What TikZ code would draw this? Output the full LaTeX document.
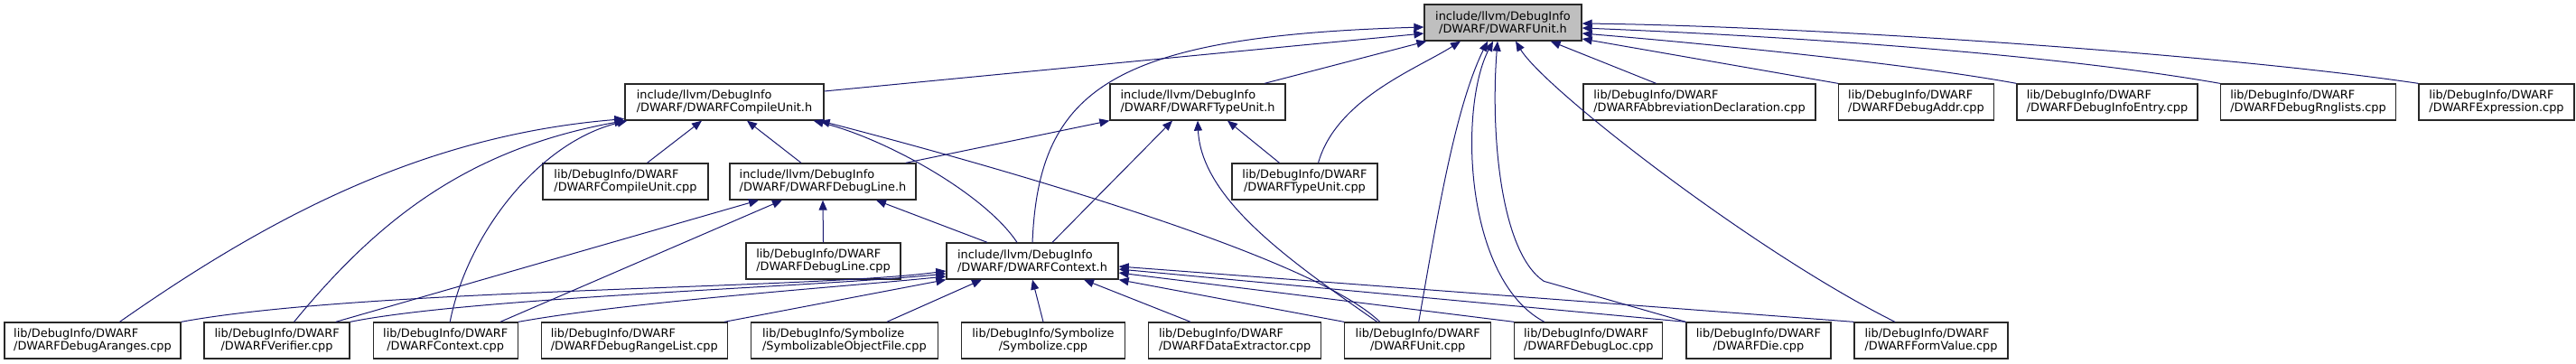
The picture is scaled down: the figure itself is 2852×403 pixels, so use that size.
\documentclass[tikz,border=0pt]{standalone}
\usepackage{fontspec}
\setmainfont{DejaVu Sans}
\usepackage{tikz}
\usetikzlibrary{positioning, arrows.meta}
\definecolor{dxblue}{RGB}{25,25,112}
\definecolor{dxborder}{RGB}{40,40,40}
\definecolor{dxgrey}{RGB}{191,191,191}
\newlength\dxwa
\newlength\dxwb
\newcommand\dxlabel[2]{\settowidth\dxwa{#1}\settowidth\dxwb{#2}%
  \ifdim\dxwb>\dxwa\dxwa=\dxwb\fi\makebox[\dxwa][l]{#1}\\#2}
\tikzset{
  dxfile/.style = {rectangle, draw=dxborder, fill=white, line width=1.3pt,
                   minimum height=40pt, inner sep=0pt, align=center,
                   font=\fontsize{12.9}{14.5}\selectfont},
  dxroot/.style = {dxfile, fill=dxgrey},
  dxedge/.style = {-{Triangle[length=11pt,width=9pt]}, draw=dxblue, line width=1pt}
}
\begin{document}
\begin{tikzpicture}[x=1pt, y=-1pt, node distance=24.8pt]
\useasboundingbox (0,0) rectangle (2852,403);
\node[dxroot, minimum width=174pt] (unith) at (1664,25) {\dxlabel{include/llvm/DebugInfo}{/DWARF/DWARFUnit.h}};

\node[dxfile, minimum width=220pt] (cuh) at (802,113) {\dxlabel{include/llvm/DebugInfo}{/DWARF/DWARFCompileUnit.h}};
\node[dxfile, minimum width=194pt] (tuh) at (1326,113) {\dxlabel{include/llvm/DebugInfo}{/DWARF/DWARFTypeUnit.h}};
\node[dxfile, minimum width=257pt] (abbr) at (1881.5,113) {\dxlabel{lib/DebugInfo/DWARF}{/DWARFAbbreviationDeclaration.cpp}};
\node[dxfile, minimum width=172pt, right=24.2pt of abbr] (daddr) {\dxlabel{lib/DebugInfo/DWARF}{/DWARFDebugAddr.cpp}};
\node[dxfile, minimum width=200pt, right=24.2pt of daddr] (dent) {\dxlabel{lib/DebugInfo/DWARF}{/DWARFDebugInfoEntry.cpp}};
\node[dxfile, minimum width=194pt, right=24.2pt of dent] (drng) {\dxlabel{lib/DebugInfo/DWARF}{/DWARFDebugRnglists.cpp}};
\node[dxfile, minimum width=172pt, right=24.2pt of drng] (expr) {\dxlabel{lib/DebugInfo/DWARF}{/DWARFExpression.cpp}};

\node[dxfile, minimum width=183pt] (cuc) at (692.5,201) {\dxlabel{lib/DebugInfo/DWARF}{/DWARFCompileUnit.cpp}};
\node[dxfile, minimum width=206pt] (dlh) at (911,201) {\dxlabel{include/llvm/DebugInfo}{/DWARF/DWARFDebugLine.h}};
\node[dxfile, minimum width=161pt] (tuc) at (1444.5,201) {\dxlabel{lib/DebugInfo/DWARF}{/DWARFTypeUnit.cpp}};

\node[dxfile, minimum width=171pt] (dlc) at (911.5,289) {\dxlabel{lib/DebugInfo/DWARF}{/DWARFDebugLine.cpp}};
\node[dxfile, minimum width=190pt] (ctxh) at (1143,289) {\dxlabel{include/llvm/DebugInfo}{/DWARF/DWARFContext.h}};

\node[dxfile, minimum width=195pt] (arng) at (102.5,377) {\dxlabel{lib/DebugInfo/DWARF}{/DWARFDebugAranges.cpp}};
\node[dxfile, minimum width=161pt, right=of arng] (verc) {\dxlabel{lib/DebugInfo/DWARF}{/DWARFVerifier.cpp}};
\node[dxfile, minimum width=160pt, right=of verc] (ctxc) {\dxlabel{lib/DebugInfo/DWARF}{/DWARFContext.cpp}};
\node[dxfile, minimum width=206pt, right=of ctxc] (rngl) {\dxlabel{lib/DebugInfo/DWARF}{/DWARFDebugRangeList.cpp}};
\node[dxfile, minimum width=207pt, right=of rngl] (symo) {\dxlabel{lib/DebugInfo/Symbolize}{/SymbolizableObjectFile.cpp}};
\node[dxfile, minimum width=181pt, right=of symo] (symz) {\dxlabel{lib/DebugInfo/Symbolize}{/Symbolize.cpp}};
\node[dxfile, minimum width=191pt, right=of symz] (dext) {\dxlabel{lib/DebugInfo/DWARF}{/DWARFDataExtractor.cpp}};
\node[dxfile, minimum width=162pt, right=of dext] (unitc) {\dxlabel{lib/DebugInfo/DWARF}{/DWARFUnit.cpp}};
\node[dxfile, minimum width=164pt, right=of unitc] (dloc) {\dxlabel{lib/DebugInfo/DWARF}{/DWARFDebugLoc.cpp}};
\node[dxfile, minimum width=160pt, right=of dloc] (diec) {\dxlabel{lib/DebugInfo/DWARF}{/DWARFDie.cpp}};
\node[dxfile, minimum width=170pt, right=of diec] (fval) {\dxlabel{lib/DebugInfo/DWARF}{/DWARFFormValue.cpp}};

\draw[dxedge] ([yshift=12pt]cuh.east) -- ([yshift=-12pt]unith.west);
\draw[dxedge] (ctxh.north) .. controls +(7,-169) and +(-347,10) .. ([yshift=-5pt]unith.west);
\draw[dxedge] ([xshift=74pt]tuh.north) -- ([xshift=3pt]unith.south west);
\draw[dxedge] ([xshift=15pt]tuc.north) .. controls +(20,-71) and +(-47,30) .. ([xshift=-47pt]unith.south);
\draw[dxedge] ([xshift=1pt]unitc.north) .. controls +(19,-107) and +(-37,75) .. ([xshift=-17pt]unith.south);
\draw[dxedge] ([xshift=-49pt]dloc.north) .. controls +(-89,-47) and +(-38,73) .. ([xshift=-11pt]unith.south);
\draw[dxedge] (diec.north west) -- ++(-157,-45) .. controls +(-48,-32) and +(-8,102) .. ([xshift=-6pt]unith.south);
\draw[dxedge] ([xshift=-40pt]fval.north) .. controls +(-155,-77) and +(32,53) .. ([xshift=14pt]unith.south);
\draw[dxedge] ([xshift=-48pt]abbr.north) -- ([xshift=-35pt]unith.south east);
\draw[dxedge] (daddr.north west) -- ([yshift=-18pt]unith.east);
\draw[dxedge] (dent.north west) .. controls +(-131,-24) and +(99,8) .. ([yshift=-12pt]unith.east);
\draw[dxedge] (drng.north west) .. controls +(-200,-35) and +(200,8) .. ([yshift=-6pt]unith.east);
\draw[dxedge] (expr.north west) .. controls +(-223,-33) and +(250,3) .. ([yshift=-1pt]unith.east);

\draw[dxedge] ([xshift=30pt]arng.north) .. controls +(167,-117) and +(-221,18) .. ([yshift=2pt]cuh.south west);
\draw[dxedge] ([xshift=19pt]verc.north) .. controls +(96,-117) and +(-170,31) .. (cuh.south west);
\draw[dxedge] ([xshift=5pt]ctxc.north) .. controls +(19,-97) and +(-98,24) .. ([xshift=3pt]cuh.south west);
\draw[dxedge] ([xshift=24pt]cuc.north) -- ([xshift=-25pt]cuh.south);
\draw[dxedge] ([xshift=-24pt]dlh.north) -- ([xshift=25pt]cuh.south);
\draw[dxedge] ([xshift=-17pt]ctxh.north) .. controls +(-36,-54) and +(80,20) .. ([xshift=-12pt]cuh.south east);
\draw[dxedge] ([xshift=-42pt]unitc.north) .. controls +(-69,-67) and +(243,63) .. ([xshift=-5pt]cuh.south east);

\draw[dxedge] ([xshift=-12pt]dlh.north east) -- (tuh.south west);
\draw[dxedge] ([xshift=22pt]ctxh.north) -- ([xshift=-28pt]tuh.south);
\draw[dxedge] ([xshift=-45pt]unitc.north) .. controls +(-96,-67) and +(4,87) .. (tuh.south);
\draw[dxedge] ([xshift=-28pt]tuc.north) -- ([xshift=33pt]tuh.south);

\draw[dxedge] ([xshift=-16pt]verc.north east) -- ([xshift=-71pt]dlh.south);
\draw[dxedge] ([xshift=-20pt]ctxc.north east) -- ([xshift=-45pt]dlh.south);
\draw[dxedge] (dlc.north) -- (dlh.south);
\draw[dxedge] ([xshift=-50pt]ctxh.north) -- ([xshift=59pt]dlh.south);

\draw[dxedge] (arng.north east) .. controls +(200,-37) and +(-148,20) .. ([yshift=-11pt]ctxh.west);
\draw[dxedge] (verc.north east) .. controls +(134,-27) and +(-148,15) .. ([yshift=-14pt]ctxh.west);
\draw[dxedge] (ctxc.north east) .. controls +(129,-23) and +(-118,12) .. ([yshift=-17pt]ctxh.west);
\draw[dxedge] ([xshift=-4pt]rngl.north east) -- (ctxh.south west);
\draw[dxedge] ([xshift=47pt]symo.north) -- ([xshift=-56pt]ctxh.south);
\draw[dxedge] (symz.north) -- (ctxh.south);
\draw[dxedge] ([xshift=-49pt]dext.north) -- ([xshift=57pt]ctxh.south);
\draw[dxedge] (unitc.north west) -- (ctxh.south east);
\draw[dxedge] (dloc.north west) -- ([yshift=-13pt]ctxh.east);
\draw[dxedge] (diec.north west) -- ([yshift=-9pt]ctxh.east);
\draw[dxedge] (fval.north west) -- ([yshift=-6pt]ctxh.east);
\end{tikzpicture}
\end{document}
